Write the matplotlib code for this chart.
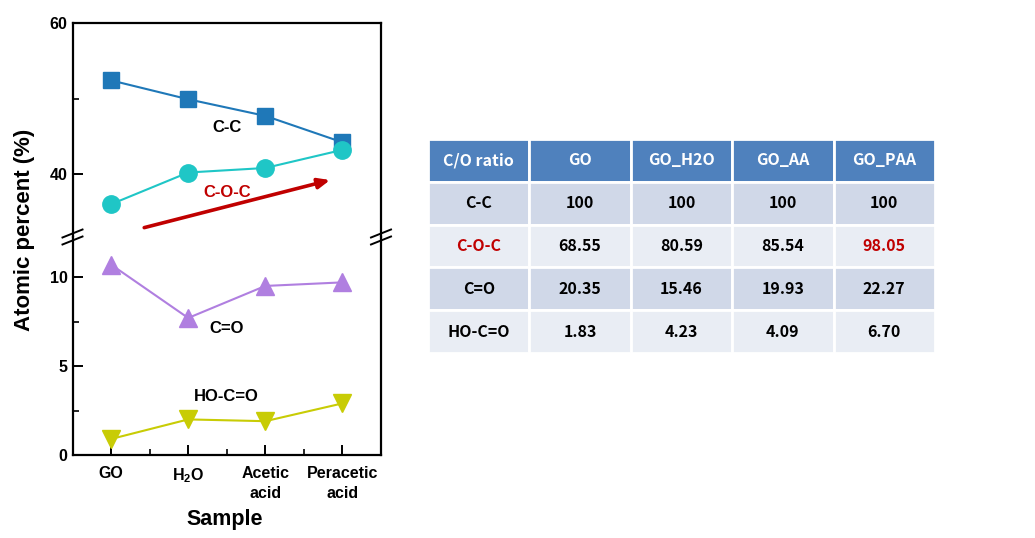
import numpy as np
import matplotlib
matplotlib.use('Agg')
import matplotlib.pyplot as plt
from matplotlib.lines import Line2D
from matplotlib.ticker import MultipleLocator

plt.rcParams['font.family'] = ['Liberation Sans', 'DejaVu Sans']
plt.rcParams['mathtext.fontset'] = 'custom'
plt.rcParams['mathtext.rm'] = 'Liberation Sans'
plt.rcParams['mathtext.bf'] = 'Liberation Sans:bold'

# data
samples = ['GO', 'H$_\\mathbf{2}$O', 'Acetic\nacid', 'Peracetic\nacid']
cc = [52.4, 49.9, 47.7, 44.2]
coc = [36.0, 40.2, 40.8, 43.2]
co = [10.7, 7.7, 9.5, 9.7]
hocoo = [0.9, 2.0, 1.9, 2.9]

# table
col_labels = ['C/O ratio', 'GO', 'GO_H2O', 'GO_AA', 'GO_PAA']
row_labels = ['C-C', 'C-O-C', 'C=O', 'HO-C=O']
ratio_cc = ['100', '100', '100', '100']
ratio_coc = ['68.55', '80.59', '85.54', '98.05']
ratio_co = ['20.35', '15.46', '19.93', '22.27']
ratio_hocoo = ['1.83', '4.23', '4.09', '6.70']

c_cc = '#1f78b8'
c_coc = '#1fc6c6'
c_co = '#b07fe0'
c_hocoo = '#c8cc05'
red = '#c00000'

fig = plt.figure(figsize=(10.35, 5.38), dpi=100)
W, H = 1035, 538
left, right = 72.5 / W, 381 / W
y_top, y_mid, y_bot = 1 - 23 / H, 1 - 237 / H, 1 - 455 / H

ax_t = fig.add_axes([left, y_mid, right - left, y_top - y_mid])
ax_b = fig.add_axes([left, y_bot, right - left, y_mid - y_bot])

x = np.arange(len(samples))

ax_t.plot(x, cc, '-s', color=c_cc, lw=1.5, ms=11.5, mec=c_cc)
ax_t.plot(x, coc, '-o', color=c_coc, lw=1.5, ms=12.5, mec=c_coc)
ax_b.plot(x, co, '-^', color=c_co, lw=1.5, ms=13, mec=c_co)
ax_b.plot(x, hocoo, '-v', color=c_hocoo, lw=1.5, ms=13, mec=c_hocoo)

ax_t.set_ylim(31.66, 60)
ax_b.set_ylim(0, 12.25)
for a in (ax_t, ax_b):
    a.set_xlim(-0.5, 3.5)
    for s in a.spines.values():
        s.set_linewidth(1.6)
    a.tick_params(axis='both', which='major', direction='in', length=7, width=1.4,
                  labelsize=11.5)
    a.tick_params(axis='both', which='minor', direction='in', length=4, width=1.2)

ax_t.spines['bottom'].set_visible(False)
ax_b.spines['top'].set_visible(False)
ax_t.set_yticks([40, 60])
ax_t.yaxis.set_minor_locator(MultipleLocator(10))
ax_t.set_xticks([])
ax_t.tick_params(axis='x', which='both', bottom=False, labelbottom=False)
ax_t.set_yticklabels(['40', '60'], fontweight='bold')

ax_b.set_yticks([0, 5, 10])
ax_b.set_yticklabels(['0', '5', '10'], fontweight='bold')
ax_b.yaxis.set_minor_locator(MultipleLocator(2.5))
ax_b.set_xticks(x)
ax_b.set_xticks(x[:-1] + 0.5, minor=True)
ax_b.set_xticklabels(samples, fontweight='bold', fontsize=11.5, linespacing=1.4)
ax_b.tick_params(axis='x', which='major', pad=8)

# labels for each series
ax_t.text(1.5, 46.1, 'C-C', ha='center', va='center', fontsize=12, fontweight='bold')
ax_t.text(1.5, 37.6, 'C-O-C', ha='center', va='center', fontsize=12, color=red,
          fontweight='bold')
ax_b.text(1.5, 7.1, 'C=O', ha='center', va='center', fontsize=12, fontweight='bold')
ax_b.text(1.5, 3.3, 'HO-C=O', ha='center', va='center', fontsize=12, fontweight='bold')

ax_t.annotate('', xy=(2.84, 39.2), xytext=(0.43, 32.9),
              arrowprops=dict(arrowstyle='-|>,head_length=0.7,head_width=0.3',
                              color=red, lw=2.6, shrinkA=0, shrinkB=0))

fig.text(25 / W, 1 - 230 / H, 'Atomic percent (%)', rotation=90, ha='center',
         va='center', fontsize=16, fontweight='bold')
fig.text(225 / W, 1 - 520 / H, 'Sample', ha='center', va='center', fontsize=15.5,
         fontweight='bold')

# axis break marks
for xc in (left, right):
    for dy in (-3.5, 3.5):
        yc = y_mid + dy / H
        fig.add_artist(Line2D([xc - 10 / W, xc + 10 / W], [yc - 4 / H, yc + 4 / H],
                              color='black', lw=1.4, transform=fig.transFigure))

# table
ax_tab = fig.add_axes([428 / W, 1 - 353 / H, 507 / W, 214 / H])
ax_tab.axis('off')
cell_text = [[row_labels[0]] + ratio_cc,
             [row_labels[1]] + ratio_coc,
             [row_labels[2]] + ratio_co,
             [row_labels[3]] + ratio_hocoo]
tab = ax_tab.table(cellText=cell_text, colLabels=col_labels, cellLoc='center',
                   bbox=[0, 0, 1, 1])
tab.auto_set_font_size(False)
row_colors = ['#d0d8e8', '#e9edf4']
for (r, c), cell in tab.get_celld().items():
    cell.set_edgecolor('white')
    cell.set_linewidth(2)
    txt = cell.get_text()
    txt.set_fontsize(11.5)
    txt.set_fontweight('bold')
    txt.set_fontfamily(['Noto Sans CJK KR', 'DejaVu Sans'])
    if r == 0:
        cell.set_facecolor('#4f81bd')
        txt.set_color('white')
    else:
        cell.set_facecolor(row_colors[(r - 1) % 2])
        txt.set_color('black')
tab[2, 0].get_text().set_color(red)
tab[2, 4].get_text().set_color(red)

fig.savefig('out.png', dpi=100, facecolor='white')
